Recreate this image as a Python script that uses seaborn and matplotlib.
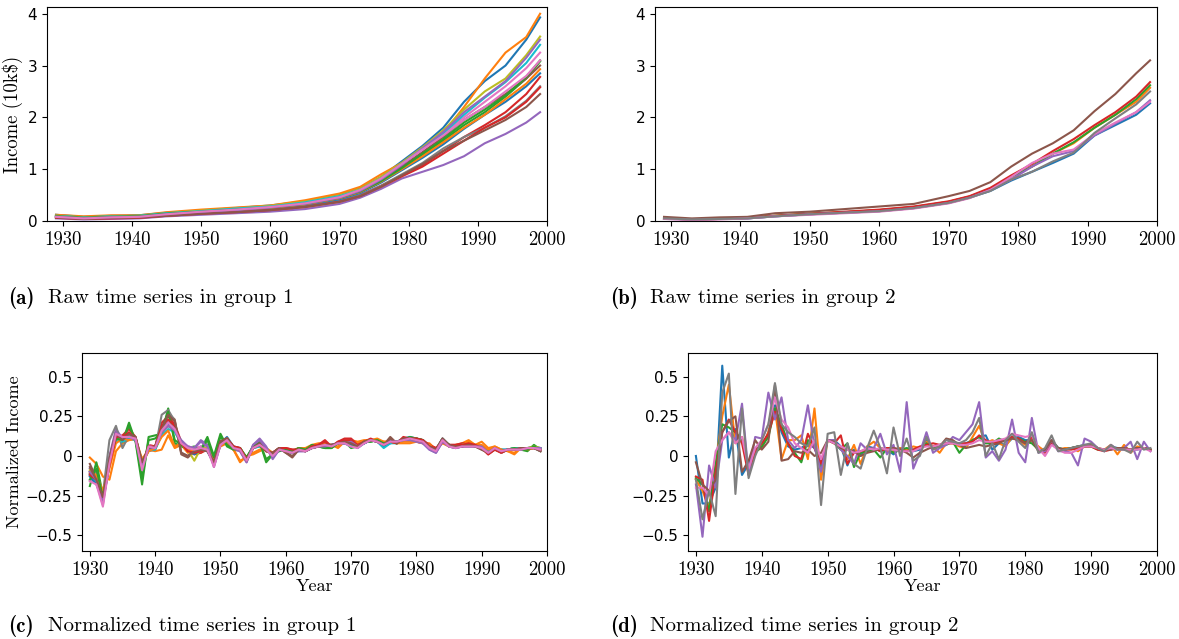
import numpy as np
import pandas as pd
import matplotlib
matplotlib.use("Agg")
import matplotlib.pyplot as plt
import seaborn as sns
from matplotlib.ticker import FixedLocator, FixedFormatter

# ---------------- data ----------------
raw_years = [1929, 1933, 1937, 1941, 1945, 1950, 1955, 1960, 1965, 1970,
             1973, 1976, 1979, 1982, 1985, 1988, 1991, 1994, 1997, 1999]
norm_years = list(range(1930, 2000))

raw_g1 = [
    [.12,.08,.10,.11,.16,.20,.25,.30,.38,.50,.63,.85,1.15,1.45,1.80,2.30,2.70,3.00,3.50,3.93],
    [.12,.09,.11,.11,.17,.22,.26,.30,.40,.53,.66,.90,1.12,1.42,1.70,2.20,2.75,3.25,3.55,4.00],
    [.10,.07,.09,.10,.15,.19,.24,.28,.35,.47,.58,.78,1.02,1.28,1.55,1.85,2.10,2.40,2.75,3.08],
    [.07,.04,.06,.07,.11,.15,.18,.22,.28,.38,.50,.68,.88,1.08,1.35,1.62,1.85,2.10,2.45,2.78],
    [.05,.03,.04,.05,.09,.12,.15,.18,.23,.33,.45,.62,.82,.95,1.08,1.25,1.50,1.68,1.90,2.10],
    [.09,.06,.08,.09,.14,.18,.22,.27,.34,.46,.58,.78,1.05,1.33,1.62,1.95,2.20,2.45,2.75,3.00],
    [.09,.06,.08,.09,.14,.19,.24,.28,.35,.47,.60,.82,1.10,1.38,1.68,2.00,2.30,2.60,2.95,3.25],
    [.07,.05,.06,.07,.11,.15,.18,.22,.28,.39,.50,.68,.90,1.12,1.40,1.62,1.80,2.02,2.32,2.60],
    [.10,.07,.09,.10,.15,.20,.24,.29,.37,.49,.62,.85,1.12,1.42,1.75,2.15,2.50,2.75,3.20,3.56],
    [.10,.07,.09,.10,.15,.19,.24,.28,.36,.48,.60,.82,1.10,1.40,1.70,2.05,2.38,2.68,3.05,3.40],
    [.08,.05,.07,.08,.12,.16,.20,.24,.31,.42,.54,.74,.98,1.22,1.48,1.78,2.05,2.30,2.60,2.85],
    [.09,.06,.08,.09,.13,.17,.21,.25,.32,.44,.56,.76,1.00,1.25,1.52,1.80,2.05,2.35,2.65,2.93],
    [.09,.06,.08,.09,.14,.18,.22,.26,.33,.45,.57,.77,1.02,1.30,1.58,1.90,2.15,2.42,2.78,3.10],
    [.06,.04,.05,.06,.10,.14,.17,.21,.27,.37,.48,.66,.86,1.05,1.30,1.55,1.80,2.00,2.30,2.58],
    [.08,.05,.07,.08,.13,.17,.21,.26,.33,.45,.58,.80,1.08,1.40,1.72,2.10,2.40,2.70,3.15,3.50],
    [.07,.04,.06,.07,.10,.14,.17,.21,.27,.37,.48,.66,.88,1.10,1.35,1.55,1.75,1.95,2.20,2.45],
    [.08,.05,.07,.08,.13,.18,.22,.27,.34,.46,.60,.82,1.10,1.38,1.65,1.95,2.20,2.50,2.80,3.10],
]

raw_g2 = [
    [.05,.03,.04,.05,.09,.13,.16,.19,.25,.35,.45,.58,.78,.95,1.12,1.30,1.65,1.85,2.05,2.27],
    [.05,.03,.04,.06,.10,.14,.17,.21,.27,.37,.47,.62,.85,1.05,1.30,1.50,1.80,2.05,2.30,2.57],
    [.05,.03,.04,.06,.10,.14,.17,.21,.27,.37,.47,.62,.85,1.05,1.30,1.52,1.80,2.05,2.35,2.62],
    [.05,.03,.04,.06,.10,.14,.18,.22,.28,.38,.48,.64,.88,1.10,1.35,1.58,1.85,2.10,2.40,2.68],
    [.04,.03,.04,.05,.09,.13,.16,.19,.25,.35,.45,.60,.80,1.05,1.25,1.35,1.65,1.88,2.10,2.33],
    [.08,.05,.07,.08,.15,.18,.23,.28,.33,.48,.58,.75,1.05,1.30,1.50,1.75,2.12,2.45,2.85,3.10],
    [.04,.02,.03,.05,.09,.12,.15,.18,.24,.34,.44,.60,.85,1.12,1.30,1.38,1.68,1.90,2.10,2.30],
    [.05,.03,.04,.05,.09,.13,.16,.19,.25,.35,.45,.58,.80,.95,1.15,1.32,1.70,1.98,2.25,2.50],
]

norm_g1 = [
    [-0.10,-0.15,-0.28,-0.02,0.12,0.10,0.14,0.10,-0.05,0.05,
     0.04,0.14,0.20,0.18,0.07,0.03,0.02,0.06,0.05,-0.04,
     0.08,0.12,0.06,0.05,-0.02,0.06,0.08,0.05,0.01,0.05,
     0.04,0.03,0.05,0.04,0.06,0.07,0.06,0.07,0.08,0.09,
     0.07,0.06,0.08,0.10,0.10,0.06,0.08,0.09,0.11,0.12,
     0.11,0.10,0.06,0.04,0.11,0.07,0.06,0.07,0.08,0.07,
     0.06,0.03,0.05,0.04,0.04,0.05,0.05,0.05,0.06,0.05],
    [-0.01,-0.05,-0.13,-0.15,0.03,0.08,0.10,0.11,-0.02,0.04,
     0.03,0.04,0.13,0.05,0.07,0.02,0.03,0.02,0.06,-0.02,
     0.06,0.08,0.04,-0.04,0.00,0.01,0.03,0.05,0.02,0.04,
     0.04,0.03,0.05,0.05,0.07,0.08,0.08,0.07,0.05,0.09,
     0.10,0.09,0.10,0.10,0.11,0.09,0.09,0.08,0.08,0.08,
     0.09,0.08,0.08,0.04,0.08,0.06,0.07,0.08,0.10,0.07,
     0.09,0.05,0.06,0.04,0.03,0.01,0.05,0.04,0.05,0.04],
    [-0.19,-0.04,-0.25,-0.02,0.10,0.09,0.21,0.09,-0.18,0.12,
     0.13,0.14,0.30,0.08,0.06,0.05,0.06,0.04,0.12,0.00,
     0.14,0.06,0.04,0.05,-0.01,0.06,0.09,-0.04,0.01,0.03,
     0.04,0.03,0.05,0.04,0.07,0.06,0.05,0.05,0.08,0.09,
     0.05,0.06,0.09,0.09,0.10,0.08,0.09,0.08,0.10,0.12,
     0.11,0.10,0.05,0.04,0.10,0.07,0.06,0.07,0.07,0.06,
     0.05,0.02,0.04,0.03,0.04,0.05,0.04,0.03,0.07,0.04],
    [-0.11,-0.16,-0.27,-0.05,0.12,0.13,0.17,0.12,-0.07,0.07,
     0.06,0.21,0.25,0.20,0.09,0.03,0.01,0.02,0.04,-0.04,
     0.09,0.11,0.06,0.05,-0.02,0.05,0.07,0.03,0.02,0.05,
     0.05,0.04,0.04,0.03,0.06,0.07,0.10,0.06,0.09,0.11,
     0.11,0.07,0.09,0.11,0.09,0.07,0.09,0.08,0.12,0.11,
     0.11,0.10,0.07,0.05,0.09,0.07,0.07,0.08,0.08,0.07,
     0.05,0.01,0.04,0.02,0.04,0.04,0.05,0.05,0.05,0.04],
    [-0.08,-0.13,-0.30,0.00,0.17,0.11,0.12,0.10,-0.06,0.05,
     0.05,0.16,0.19,0.16,0.10,0.06,0.05,0.10,0.07,-0.07,
     0.07,0.10,0.04,0.03,-0.04,0.07,0.11,0.06,-0.02,0.04,
     0.03,0.02,0.03,0.03,0.05,0.06,0.06,0.07,0.08,0.08,
     0.10,0.06,0.08,0.10,0.09,0.07,0.10,0.09,0.10,0.10,
     0.09,0.08,0.04,0.02,0.09,0.06,0.05,0.06,0.06,0.06,
     0.06,0.02,0.05,0.03,0.04,0.04,0.04,0.05,0.05,0.05],
    [-0.05,-0.14,-0.26,-0.01,0.15,0.10,0.14,0.12,-0.04,0.05,
     0.06,0.18,0.27,0.23,0.01,-0.01,0.03,0.04,0.03,-0.04,
     0.09,0.11,0.05,0.04,-0.03,0.05,0.08,0.03,0.02,0.05,
     0.02,-0.01,0.04,0.03,0.05,0.06,0.07,0.07,0.08,0.09,
     0.08,0.06,0.09,0.10,0.09,0.07,0.12,0.08,0.11,0.11,
     0.10,0.09,0.06,0.04,0.11,0.07,0.06,0.06,0.07,0.06,
     0.04,0.02,0.05,0.03,0.04,0.04,0.05,0.05,0.05,0.03],
    [-0.15,-0.17,-0.31,-0.04,0.13,0.12,0.12,0.11,-0.09,0.07,
     0.05,0.18,0.22,0.18,0.09,0.06,0.05,0.06,0.05,-0.06,
     0.08,0.10,0.05,0.04,-0.03,0.06,0.07,0.04,0.00,0.04,
     0.03,0.03,0.04,0.04,0.05,0.07,0.06,0.06,0.08,0.08,
     0.06,0.06,0.08,0.10,0.09,0.08,0.09,0.09,0.10,0.10,
     0.10,0.09,0.05,0.04,0.10,0.06,0.05,0.06,0.06,0.06,
     0.05,0.03,0.05,0.03,0.04,0.04,0.05,0.05,0.05,0.04],
    [-0.12,-0.10,-0.24,0.10,0.19,0.05,0.13,0.10,-0.04,0.03,
     0.04,0.26,0.29,0.22,0.02,0.00,0.03,0.04,0.05,-0.05,
     0.08,0.09,0.04,0.04,-0.02,0.05,0.06,0.04,0.02,0.05,
     0.03,0.02,0.05,0.03,0.05,0.06,0.06,0.06,0.08,0.09,
     0.07,0.06,0.08,0.10,0.09,0.08,0.09,0.09,0.10,0.11,
     0.11,0.09,0.05,0.04,0.11,0.06,0.05,0.06,0.06,0.06,
     0.05,0.02,0.05,0.02,0.04,0.04,0.04,0.05,0.05,0.03],
    [-0.09,-0.14,-0.27,-0.03,0.11,0.10,0.11,0.10,-0.05,0.05,
     0.05,0.15,0.19,0.16,0.07,0.04,-0.03,0.05,0.05,-0.04,
     0.08,0.11,0.05,0.04,-0.02,0.05,0.07,0.04,0.01,0.04,
     0.04,0.03,0.04,0.04,0.05,0.06,0.07,0.06,0.08,0.09,
     0.08,0.06,0.09,0.10,0.10,0.08,0.09,0.09,0.10,0.11,
     0.10,0.09,0.06,0.04,0.10,0.07,0.06,0.07,0.07,0.06,
     0.06,0.03,0.05,0.03,0.04,0.05,0.05,0.05,0.06,0.05],
    [-0.12,-0.17,-0.29,-0.06,0.10,0.09,0.11,0.10,-0.06,0.04,
     0.04,0.13,0.17,0.15,0.08,0.05,0.02,0.03,0.04,-0.05,
     0.08,0.09,0.05,0.04,-0.02,0.05,0.06,0.04,0.01,0.04,
     0.04,0.03,0.04,0.04,0.05,0.06,0.06,0.06,0.08,0.08,
     0.06,0.06,0.08,0.10,0.09,0.05,0.08,0.08,0.10,0.11,
     0.10,0.10,0.06,0.04,0.10,0.07,0.06,0.07,0.07,0.06,
     0.06,0.03,0.05,0.04,0.04,0.05,0.05,0.05,0.05,0.05],
    [-0.13,-0.18,-0.28,-0.06,0.13,0.11,0.12,0.11,-0.07,0.06,
     0.05,0.17,0.21,0.17,0.09,0.04,0.01,0.04,0.03,-0.05,
     0.08,0.10,0.05,0.04,-0.03,0.05,0.07,0.04,0.01,0.04,
     0.03,0.02,0.04,0.03,0.05,0.06,0.07,0.06,0.08,0.08,
     0.07,0.05,0.08,0.10,0.09,0.07,0.09,0.08,0.10,0.11,
     0.10,0.09,0.05,0.04,0.10,0.06,0.06,0.06,0.07,0.06,
     0.05,0.02,0.05,0.03,0.04,0.04,0.04,0.05,0.05,0.04],
    [-0.10,-0.12,-0.22,-0.08,0.08,0.11,0.10,0.11,-0.05,0.03,
     0.05,0.12,0.16,0.06,0.08,0.04,0.03,0.03,0.04,-0.03,
     0.07,0.09,0.04,-0.03,-0.01,0.02,0.04,0.04,0.02,0.04,
     0.04,0.03,0.05,0.04,0.06,0.07,0.07,0.07,0.06,0.09,
     0.09,0.08,0.09,0.10,0.10,0.09,0.09,0.08,0.09,0.09,
     0.09,0.08,0.07,0.04,0.09,0.06,0.06,0.07,0.09,0.07,
     0.07,0.04,0.06,0.04,0.03,0.02,0.05,0.04,0.05,0.04],
    [-0.15,-0.08,-0.26,-0.03,0.11,0.10,0.19,0.10,-0.14,0.10,
     0.11,0.15,0.28,0.10,0.07,0.05,0.05,0.04,0.10,-0.01,
     0.12,0.07,0.04,0.05,-0.01,0.06,0.08,-0.02,0.01,0.04,
     0.04,0.03,0.05,0.04,0.06,0.06,0.05,0.05,0.08,0.09,
     0.06,0.06,0.09,0.09,0.10,0.08,0.09,0.09,0.10,0.11,
     0.11,0.10,0.05,0.04,0.10,0.07,0.06,0.07,0.07,0.06,
     0.05,0.02,0.04,0.03,0.04,0.05,0.04,0.04,0.06,0.04],
    [-0.12,-0.15,-0.28,-0.06,0.12,0.12,0.15,0.11,-0.06,0.06,
     0.06,0.19,0.23,0.19,0.08,0.03,0.02,0.03,0.04,-0.04,
     0.09,0.11,0.06,0.05,-0.02,0.05,0.07,0.03,0.02,0.05,
     0.05,0.04,0.04,0.03,0.06,0.07,0.09,0.06,0.09,0.10,
     0.10,0.07,0.09,0.10,0.09,0.07,0.09,0.08,0.11,0.11,
     0.11,0.10,0.06,0.05,0.09,0.07,0.07,0.07,0.08,0.07,
     0.05,0.01,0.04,0.02,0.04,0.04,0.05,0.05,0.05,0.04],
    [-0.10,-0.15,-0.29,-0.02,0.15,0.11,0.12,0.10,-0.06,0.05,
     0.05,0.15,0.19,0.16,0.09,0.06,0.05,0.09,0.06,-0.06,
     0.07,0.10,0.05,0.03,-0.04,0.07,0.10,0.05,-0.01,0.04,
     0.03,0.02,0.03,0.03,0.05,0.06,0.06,0.07,0.08,0.08,
     0.09,0.06,0.08,0.10,0.09,0.07,0.10,0.09,0.10,0.10,
     0.09,0.08,0.04,0.02,0.09,0.06,0.05,0.06,0.06,0.06,
     0.06,0.02,0.05,0.03,0.04,0.04,0.04,0.05,0.05,0.05],
    [-0.07,-0.15,-0.26,-0.02,0.14,0.10,0.14,0.12,-0.04,0.05,
     0.06,0.17,0.26,0.22,0.02,0.00,0.03,0.04,0.03,-0.04,
     0.09,0.11,0.05,0.04,-0.03,0.05,0.08,0.03,0.02,0.05,
     0.02,0.00,0.04,0.03,0.05,0.06,0.07,0.07,0.08,0.09,
     0.08,0.06,0.09,0.10,0.09,0.07,0.11,0.08,0.11,0.11,
     0.10,0.09,0.06,0.04,0.11,0.07,0.06,0.06,0.07,0.06,
     0.04,0.02,0.05,0.03,0.04,0.04,0.05,0.05,0.05,0.03],
    [-0.16,-0.18,-0.32,-0.05,0.14,0.12,0.12,0.11,-0.09,0.06,
     0.05,0.16,0.21,0.17,0.08,0.05,0.04,0.05,0.04,-0.07,
     0.07,0.10,0.05,0.04,-0.03,0.05,0.07,0.04,0.00,0.04,
     0.03,0.02,0.04,0.03,0.05,0.06,0.07,0.06,0.08,0.08,
     0.06,0.05,0.08,0.10,0.09,0.07,0.09,0.09,0.10,0.11,
     0.10,0.09,0.05,0.03,0.10,0.06,0.05,0.06,0.06,0.06,
     0.05,0.02,0.05,0.03,0.04,0.04,0.04,0.05,0.05,0.04],
]

norm_g2 = [
    [0.00,-0.30,-0.30,-0.20,0.57,-0.01,0.17,-0.12,-0.05,0.05,
     0.05,0.15,0.32,0.15,0.06,0.04,0.05,0.08,0.05,-0.05,
     0.10,0.10,0.06,-0.06,0.04,0.00,0.06,0.05,0.03,0.04,
     0.01,0.05,0.04,0.03,0.04,0.10,0.05,0.07,0.08,0.09,
     0.07,0.08,0.10,0.12,0.13,0.04,0.08,0.07,0.11,0.12,
     0.10,0.10,0.05,0.03,0.10,0.05,0.04,0.05,0.06,0.07,
     0.07,0.05,0.03,0.06,0.05,0.04,0.04,0.04,0.05,0.04],
    [-0.15,-0.22,-0.33,-0.05,0.25,0.45,0.08,0.12,-0.10,0.03,
     0.05,0.15,0.30,-0.02,0.10,0.10,0.13,-0.02,0.30,-0.15,
     0.10,0.08,0.05,-0.02,0.07,-0.05,0.06,0.09,0.05,0.03,
     0.03,0.05,0.04,0.06,0.05,0.09,0.06,0.02,0.08,0.08,
     0.06,0.05,0.12,0.19,0.08,0.10,0.08,0.06,0.12,0.10,
     0.07,0.10,0.06,0.03,0.10,0.04,0.05,0.05,0.03,0.06,
     0.06,0.05,0.04,0.07,0.01,0.07,0.02,0.06,0.05,0.04],
    [-0.14,-0.18,-0.35,-0.05,0.20,0.18,0.15,0.10,-0.08,0.02,
     0.06,0.12,0.30,0.20,0.08,0.02,-0.04,0.10,0.07,-0.07,
     0.10,0.08,0.04,0.08,-0.07,0.02,0.03,0.04,-0.01,0.05,
     0.02,0.04,0.05,0.04,0.05,0.08,0.05,0.06,0.07,0.09,
     0.02,0.07,0.10,0.12,0.08,0.08,0.11,0.09,0.12,0.11,
     0.09,0.08,0.04,0.03,0.09,0.05,0.04,0.05,0.06,0.06,
     0.06,0.04,0.04,0.05,0.04,0.05,0.04,0.05,0.05,0.04],
    [-0.13,-0.15,-0.41,-0.10,0.15,0.23,0.15,0.08,-0.12,0.03,
     0.08,0.14,0.28,0.17,0.08,0.00,-0.02,0.14,0.05,-0.05,
     0.10,0.08,0.13,-0.05,0.02,0.03,0.04,0.05,0.03,0.05,
     0.05,0.04,0.03,0.04,0.06,0.07,0.08,0.07,0.08,0.08,
     0.08,0.08,0.09,0.13,0.10,0.08,0.09,0.10,0.12,0.11,
     0.08,0.12,0.04,0.02,0.08,0.04,0.04,0.04,0.05,0.06,
     0.06,0.04,0.03,0.04,0.05,0.05,0.04,0.05,0.05,0.04],
    [-0.18,-0.51,-0.06,-0.20,0.10,0.15,0.10,0.33,-0.12,0.12,
     0.11,0.40,0.23,0.37,0.10,0.05,0.10,0.32,0.06,-0.10,
     0.10,0.10,0.04,0.00,-0.05,0.08,0.04,0.05,0.14,0.01,
     0.07,-0.10,0.34,-0.08,0.02,0.15,0.02,0.05,0.07,0.12,
     0.10,0.15,0.20,0.34,-0.01,0.03,-0.03,0.04,0.23,0.02,
     -0.04,0.24,0.02,0.03,0.10,0.03,0.03,0.02,-0.06,0.11,
     0.09,0.05,0.03,0.07,0.04,0.05,0.09,-0.02,0.09,0.03],
    [-0.04,-0.18,-0.22,-0.15,0.15,0.22,0.25,-0.10,-0.03,0.10,
     0.04,0.09,0.45,-0.03,-0.02,0.03,0.02,0.04,0.00,0.02,
     0.10,0.09,0.05,0.04,0.03,0.00,0.02,0.03,0.05,0.04,
     0.05,0.04,0.02,-0.01,0.02,0.04,0.06,0.06,0.11,0.10,
     0.07,0.05,0.06,0.07,0.06,0.07,0.08,0.10,0.11,0.10,
     0.08,0.10,0.03,0.04,0.10,0.05,0.04,0.05,0.06,0.06,
     0.07,0.05,0.04,0.04,0.05,0.05,0.04,0.05,0.05,0.04],
    [-0.20,-0.20,-0.25,0.03,0.10,0.15,0.08,0.12,-0.08,0.05,
     0.10,0.20,0.37,0.23,0.18,0.08,0.05,0.02,0.10,-0.02,
     0.10,0.08,0.06,0.04,0.02,0.03,0.05,0.04,0.05,0.04,
     0.04,0.03,0.03,0.03,0.05,0.06,0.06,0.07,0.08,0.08,
     0.07,0.07,0.08,0.10,0.09,0.09,0.10,0.11,0.14,0.13,
     0.12,0.13,0.05,0.00,0.07,0.04,0.02,0.02,0.04,0.06,
     0.06,0.05,0.04,0.05,0.04,0.04,0.04,0.04,0.05,0.03],
    [-0.15,-0.40,-0.22,-0.38,0.40,0.52,-0.24,0.30,-0.14,0.00,
     0.10,0.20,0.46,0.20,0.15,0.12,0.08,0.06,0.18,-0.31,
     0.14,0.15,-0.12,0.08,-0.05,-0.08,0.05,0.16,0.05,-0.11,
     0.18,0.00,0.11,-0.03,0.00,0.12,0.04,0.06,0.10,0.09,
     0.08,0.10,0.15,0.24,0.00,0.08,-0.02,0.10,0.14,0.09,
     0.05,0.15,0.02,0.05,0.13,0.03,0.04,0.05,0.06,0.07,
     0.08,0.05,0.03,0.07,0.04,0.04,0.02,0.09,0.04,0.05],
]

# ---------------- figure ----------------
W, H = 1179, 639
fig = plt.figure(figsize=(W / 100, H / 100), dpi=100)

def px_axes(l, t, r, b):
    return fig.add_axes([l / W, 1 - b / H, (r - l) / W, (b - t) / H])

ax_a = px_axes(47, 7, 547, 221)
ax_b = px_axes(655, 7, 1157, 221)
ax_c = px_axes(82, 353, 547, 551)
ax_d = px_axes(688, 353, 1157, 551)

def long_df(years, series):
    rows = []
    for i, s in enumerate(series):
        for y, v in zip(years, s):
            rows.append((i, y, v))
    return pd.DataFrame(rows, columns=["id", "year", "value"])

def draw(ax, years, series):
    df = long_df(years, series)
    n = len(series)
    sns.lineplot(data=df, x="year", y="value", hue="id",
                 palette=sns.color_palette("tab10", n), estimator=None,
                 legend=False, linewidth=1.5, ax=ax)

draw(ax_a, raw_years, raw_g1)
draw(ax_b, raw_years, raw_g2)
draw(ax_c, norm_years, norm_g1)
draw(ax_d, norm_years, norm_g2)

SERIF = "cmr10"
xt = [1930, 1940, 1950, 1960, 1970, 1980, 1990, 2000]

for ax in (ax_a, ax_b):
    ax.set_xlim(1927.7, 2000)
    ax.set_ylim(0, 4.13)
    ax.yaxis.set_major_locator(FixedLocator([0, 1, 2, 3, 4]))
    ax.yaxis.set_major_formatter(FixedFormatter(["0", "1", "2", "3", "4"]))
for ax in (ax_c, ax_d):
    ax.set_xlim(1928.8, 2000)
    ax.set_ylim(-0.6, 0.65)
    yt = [-0.5, -0.25, 0, 0.25, 0.5]
    ax.yaxis.set_major_locator(FixedLocator(yt))
    ax.yaxis.set_major_formatter(FixedFormatter(["\u22120.5", "\u22120.25", "0", "0.25", "0.5"]))

for ax in (ax_a, ax_b, ax_c, ax_d):
    ax.xaxis.set_major_locator(FixedLocator(xt))
    ax.xaxis.set_major_formatter(FixedFormatter([str(v) for v in xt]))
    for lab in ax.get_xticklabels():
        lab.set_fontfamily(SERIF)
        lab.set_fontsize(13.5)
    for lab in ax.get_yticklabels():
        lab.set_fontfamily("DejaVu Sans")
        lab.set_fontsize(11)
    ax.set_xlabel("")
    ax.set_ylabel("")

ax_a.set_ylabel("Income (10k$)", fontfamily=SERIF, fontsize=13.5, labelpad=3)
ax_c.set_ylabel("Normalized Income", fontfamily=SERIF, fontsize=13, labelpad=3)
ax_c.set_xlabel("Year", fontfamily=SERIF, fontsize=13, labelpad=0)
ax_d.set_xlabel("Year", fontfamily=SERIF, fontsize=13, labelpad=0)

captions = [
    (8, 298, "(a)", "Raw time series in group 1"),
    (610, 298, "(b)", "Raw time series in group 2"),
    (8, 626, "(c)", "Normalized time series in group 1"),
    (610, 626, "(d)", "Normalized time series in group 2"),
]
for x, y, tag, body in captions:
    fig.text(x / W, 1 - y / H, tag, fontfamily="cmb10", fontsize=15, va="center", ha="left")
    fig.text((x + 40) / W, 1 - y / H, body, fontfamily=SERIF, fontsize=15, va="center", ha="left")

fig.savefig("out.png", dpi=100)
